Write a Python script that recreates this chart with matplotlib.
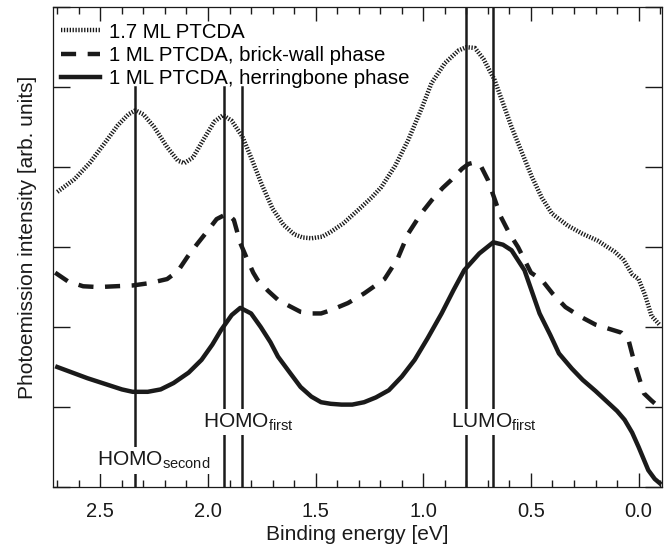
import numpy as np
import matplotlib
matplotlib.use("Agg")
import matplotlib.pyplot as plt
from matplotlib.ticker import MultipleLocator, NullFormatter, FormatStrFormatter

plt.rcParams['font.family'] = ['Liberation Sans', 'DejaVu Sans']
plt.rcParams['mathtext.default'] = 'regular'

# 1.7 ML PTCDA (dotted)
e_17 = [2.70, 2.62, 2.55, 2.48, 2.42, 2.37, 2.337, 2.30, 2.25, 2.19, 2.14, 2.11, 2.07, 2.02, 1.97,
        1.93, 1.89, 1.84, 1.80, 1.75, 1.70, 1.65, 1.60, 1.56, 1.52, 1.47, 1.43, 1.37, 1.30, 1.24,
        1.195, 1.13, 1.07, 1.01, 0.962, 0.90, 0.836, 0.80, 0.76, 0.72, 0.669, 0.63, 0.59, 0.54,
        0.496, 0.45, 0.403, 0.33, 0.263, 0.19, 0.11, 0.07, 0.03, 0.0, -0.03, -0.06, -0.10]
i_17 = [3.69, 3.85, 4.05, 4.30, 4.52, 4.66, 4.71, 4.66, 4.50, 4.25, 4.08, 4.05, 4.12, 4.35, 4.57,
        4.65, 4.58, 4.38, 4.12, 3.78, 3.48, 3.28, 3.16, 3.12, 3.11, 3.13, 3.19, 3.30, 3.47, 3.62,
        3.75, 4.02, 4.34, 4.72, 5.05, 5.30, 5.46, 5.50, 5.49, 5.35, 5.09, 4.80, 4.50, 4.17,
        3.88, 3.62, 3.42, 3.27, 3.17, 3.08, 2.94, 2.84, 2.66, 2.60, 2.40, 2.14, 2.02]

# 1 ML PTCDA, brick-wall phase (dashed)
e_bw = [2.71, 2.65, 2.58, 2.51, 2.43, 2.35, 2.27, 2.19, 2.14, 2.095, 2.05, 2.0, 1.96, 1.91, 1.88,
        1.85, 1.82, 1.79, 1.77, 1.72, 1.675, 1.62, 1.57, 1.52, 1.475, 1.43, 1.35, 1.275, 1.18,
        1.12, 1.07, 1.01, 0.96, 0.91, 0.87, 0.82, 0.79, 0.76, 0.73, 0.70, 0.64, 0.60, 0.56, 0.50,
        0.45, 0.40, 0.34, 0.27, 0.20, 0.14, 0.08, 0.047, 0.019, -0.025, -0.06, -0.086]
i_bw = [2.68, 2.57, 2.51, 2.50, 2.51, 2.52, 2.55, 2.60, 2.70, 2.88, 3.04, 3.21, 3.35, 3.42, 3.34,
        3.05, 2.86, 2.68, 2.59, 2.45, 2.34, 2.26, 2.19, 2.17, 2.17, 2.21, 2.30, 2.42, 2.60,
        2.85, 3.17, 3.42, 3.59, 3.74, 3.84, 3.98, 4.04, 4.06, 4.00, 3.84, 3.38, 3.17, 3.00, 2.68,
        2.59, 2.42, 2.25, 2.13, 2.03, 1.98, 1.93, 1.84, 1.55, 1.17, 1.08, 1.02]

# 1 ML PTCDA, herringbone phase (solid)
e_hb = [2.70, 2.63, 2.56, 2.48, 2.40, 2.35, 2.28, 2.22, 2.16, 2.09, 2.03, 1.98, 1.94, 1.89,
        1.85, 1.80, 1.755, 1.71, 1.675, 1.62, 1.57, 1.52, 1.475, 1.43, 1.38, 1.33, 1.275, 1.22,
        1.16, 1.10, 1.04, 0.98, 0.915, 0.86, 0.81, 0.74, 0.675, 0.63, 0.59, 0.53, 0.46, 0.41,
        0.37, 0.31, 0.26, 0.20, 0.14, 0.10, 0.065, 0.03, 0.0, -0.045, -0.075, -0.097]
i_hb = [1.50, 1.43, 1.36, 1.29, 1.22, 1.19, 1.19, 1.22, 1.30, 1.43, 1.59, 1.78, 1.96, 2.15,
        2.24, 2.17, 2.00, 1.81, 1.63, 1.43, 1.25, 1.13, 1.06, 1.04, 1.03, 1.03, 1.06, 1.12,
        1.21, 1.38, 1.59, 1.86, 2.17, 2.46, 2.71, 2.92, 3.06, 3.03, 2.96, 2.71, 2.17, 1.90,
        1.67, 1.48, 1.34, 1.20, 1.05, 0.95, 0.84, 0.68, 0.50, 0.21, 0.10, 0.05]

# marker lines: energy and where each line stops at the top
mark_e = [2.337, 1.927, 1.843, 0.80, 0.675]
mark_top = [5.0, 5.0, 5.0, 6.0, 6.0]

# state labels
lab_txt = ['HOMO$_{second}$', 'HOMO$_{first}$', 'LUMO$_{first}$']
lab_e = [2.253, 1.815, 0.673]
lab_y = [0.33, 0.81, 0.81]

fig = plt.figure(figsize=(6.71, 5.54), dpi=100)
ax = fig.add_axes([0.079, 0.121, 0.908, 0.866])

for e, t in zip(mark_e, mark_top):
    ax.plot([e, e], [0, t], color='#1a1a1a', lw=1.8, zorder=1)

ax.plot(e_17, i_17, color='#1a1a1a', lw=3.2, linestyle=(0, (0.3, 0.35)),
        label='1.7 ML PTCDA', zorder=2)
ax.plot(e_bw, i_bw, color='#1a1a1a', lw=3.2, linestyle=(0, (3.4, 2.6)),
        label='1 ML PTCDA, brick-wall phase', zorder=2)
ax.plot(e_hb, i_hb, color='#1a1a1a', lw=3.2, linestyle='-',
        label='1 ML PTCDA, herringbone phase', zorder=2)

for t, e, y in zip(lab_txt, lab_e, lab_y):
    txt = ax.text(e, y, t, ha='center', va='center', fontsize=15, color='#1a1a1a', zorder=10)
    txt.set_bbox(dict(boxstyle='square,pad=0.12', facecolor='white', edgecolor='white', linewidth=0))

ax.set_xlim(2.72, -0.11)
ax.set_ylim(0, 6)
ax.xaxis.set_major_locator(MultipleLocator(0.5))
ax.xaxis.set_minor_locator(MultipleLocator(0.1))
ax.yaxis.set_major_locator(MultipleLocator(1))
ax.yaxis.set_major_formatter(NullFormatter())
ax.xaxis.set_major_formatter(FormatStrFormatter('%.1f'))
ax.tick_params(which='both', direction='in', top=True, right=True, labelsize=14.5, width=1.0,
               colors='#1a1a1a')
ax.tick_params(which='major', length=10, pad=11)
ax.tick_params(which='minor', length=5)
ax.tick_params(axis='y', which='major', length=12)
for s in ax.spines.values():
    s.set_linewidth(0.9)
    s.set_color('#1a1a1a')

ax.set_xlabel('Binding energy [eV]', fontsize=15, labelpad=3, color='#1a1a1a')
ax.set_ylabel('Photoemission intensity [arb. units]', fontsize=15, color='#1a1a1a')
ax.yaxis.set_label_coords(-0.027, 0.52)

ax.legend(loc='upper left', bbox_to_anchor=(0.0, 0.985), frameon=False, fontsize=14.7,
          handlelength=1.9, handletextpad=0.45, labelspacing=0.2, borderaxespad=0.1,
          borderpad=0.3)

fig.savefig('out.png', dpi=100)
